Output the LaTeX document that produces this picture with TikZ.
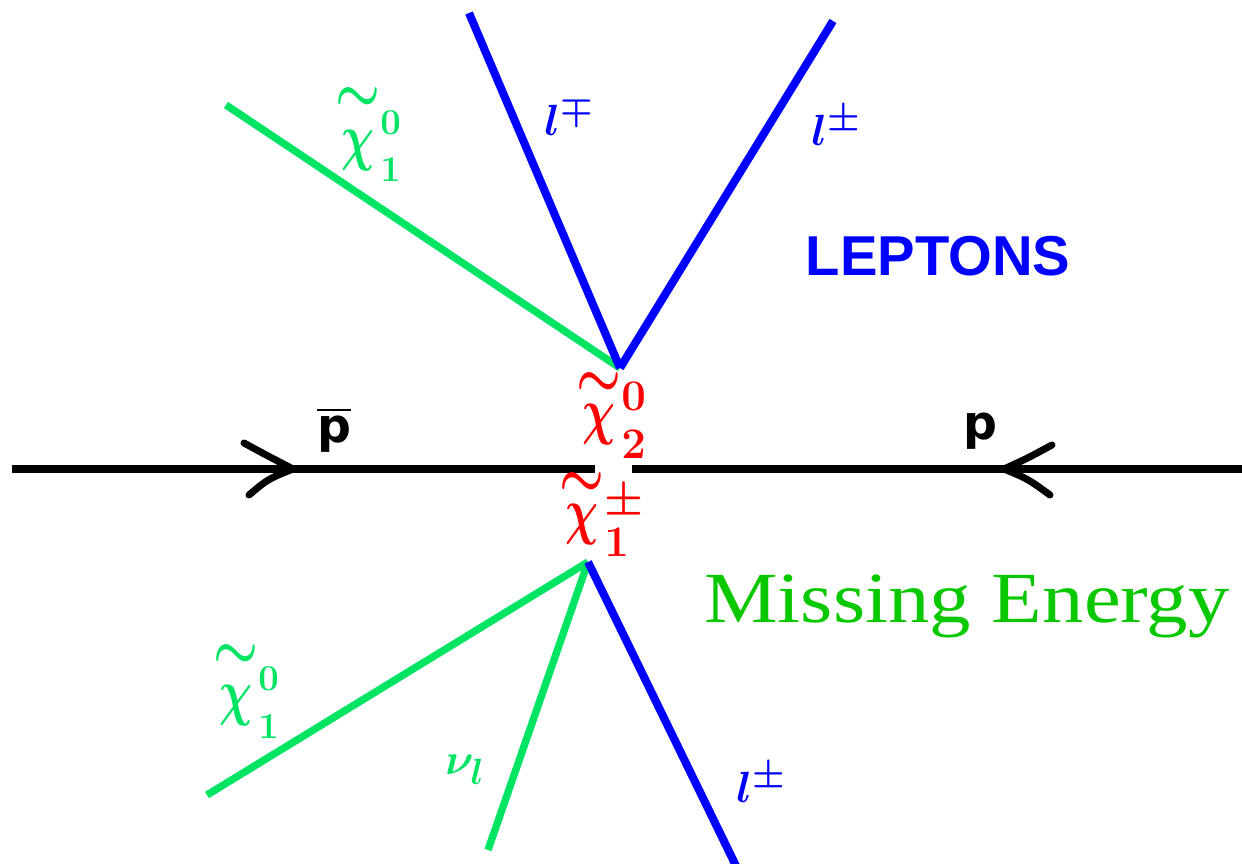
\documentclass[tikz,border=0pt]{standalone}
\usepackage{amsmath}
\usepackage{fontspec}
\setsansfont{Liberation Sans}
\newfontfamily\serifLib{Liberation Serif}
\newfontfamily\dejabold{DejaVu Sans}
\definecolor{lgreen}{RGB}{0,228,100}
\definecolor{dgreen}{RGB}{10,200,0}
\definecolor{pblue}{RGB}{0,0,255}
\definecolor{pred}{RGB}{255,0,0}
\newcommand{\tallchi}{\mathord{\scalebox{1.05}[1.45]{$\chi$}}}
% #1 tilde raise, #2 sup, #3 sup raise, #4 sub, #5 sub lowering
\newcommand{\chilab}[5]{{\smash[t]{\overset{\raisebox{#1}{\scalebox{1.15}[1.4]{$\textstyle\sim$}}}{\tallchi}}}^{\raisebox{#3}{$\scriptstyle #2$}}_{\raisebox{-#5}{$\scriptstyle #4$}}}
\tikzset{
  beam/.style={line width=4.3pt, black},
  chev/.style={line width=4pt, black, line cap=round, line join=round},
  blueline/.style={line width=4.6pt, pblue},
  greenline/.style={line width=4.2pt, lgreen},
  redlab/.style={text=pred, inner sep=0pt, anchor=base west, font=\fontsize{36}{40}\selectfont\boldmath},
  greenlab/.style={text=lgreen, inner sep=0pt, anchor=base west, font=\fontsize{29}{32}\selectfont\boldmath},
  nulab/.style={text=lgreen, inner sep=0pt, font=\fontsize{31}{34}\selectfont\boldmath},
  lablue/.style={text=pblue, inner sep=0pt, font=\fontsize{29}{32}\selectfont\boldmath},
}
\begin{document}
\begin{tikzpicture}[x=0.02cm,y=-0.02cm]
\useasboundingbox (0,0) rectangle (1242,864);
% vertices
\coordinate (vt) at (620,368);
\coordinate (vb) at (588,562);
% endpoints
\coordinate (ta) at (469,13);
\coordinate (tb) at (833,21);
\coordinate (tc) at (226,105);
\coordinate (ba) at (207,795);
\coordinate (bb) at (488,850);
\coordinate (bc) at (738,870);
% beam
\coordinate (bl0) at (12,469);
\coordinate (bl1) at (595,469);
\coordinate (br0) at (632,469);
\coordinate (br1) at (1250,469);
\draw[beam] (bl0) -- (bl1);
\draw[beam] (br0) -- (br1);
% chevrons
\coordinate (la1) at (244,443);
\coordinate (lat) at (293,469);
\coordinate (la2) at (249,495);
\coordinate (ra1) at (1052,445);
\coordinate (rat) at (1004,469);
\coordinate (ra2) at (1050,495);
\draw[chev] (la1) .. controls (266,455) .. (lat) .. controls (268,479) .. (la2);
\draw[chev] (ra1) .. controls (1028,458) .. (rat) .. controls (1028,479) .. (ra2);
% lines
\draw[greenline] (vt) -- (tc);
\draw[blueline] (vt) -- (ta);
\draw[blueline] (vt) -- (tb);
\draw[greenline] (vb) -- (ba);
\draw[greenline] (vb) -- (bb);
\draw[blueline] (vb) -- (bc);
% labels
\node[redlab] (chi2) at (576,433) {$\chilab{0pt}{0}{4pt}{2}{6pt}$};
\node[redlab] (chi1pm) at (559,533) {$\chilab{0pt}{\pm}{2pt}{1}{5pt}$};
\node[greenlab] (chiA) at (335,159) {$\chilab{6pt}{0}{5pt}{1}{5pt}$};
\node[greenlab] (chiB) at (213,714) {$\chilab{5pt}{0}{4.5pt}{1}{6pt}$};
\node[lablue] (lmp) at (569,116) {$l^{\mp}$};
\node[lablue] (lpm) at (836,126) {$l^{\pm}$};
\node[lablue] (lpmb) at (761,783) {$l^{\pm}$};
\node[nulab] (nul) at (465,770) {$\nu_{l}$};
\node[inner sep=0pt, font=\dejabold\bfseries\fontsize{27}{30}\selectfont] (pbar) at (334,430) {$\overline{\hbox{p}}$};
\node[inner sep=0pt, font=\dejabold\bfseries\fontsize{27}{30}\selectfont] (p) at (980,431) {p};
\node[inner sep=0pt, text=pblue, font=\sffamily\bfseries\fontsize{32}{36}\selectfont] (lep) at (938,256) {LEPTONS};
\node[inner sep=0pt, text=dgreen, font=\serifLib\fontsize{41}{46}\selectfont, xscale=1.15] (me) at (967,606) {Missing Energy};
\end{tikzpicture}
\end{document}
